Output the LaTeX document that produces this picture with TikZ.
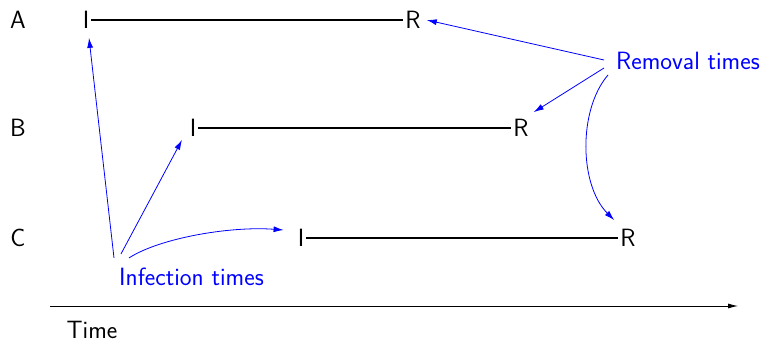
\documentclass[tikz,border=0pt]{standalone}
\usetikzlibrary{arrows.meta,calc}
\begin{document}
\begin{tikzpicture}[x=1pt,y=1pt,
  lbl/.style={font=\sffamily\fontsize{25}{30}\selectfont, inner sep=2pt},
  note/.style={lbl, text=blue},
  period/.style={line width=1.1pt, black},
  pointer/.style={blue, line width=0.8pt, -{Latex[length=10pt,width=6pt]}},
  axis/.style={black, line width=0.8pt, -{Latex[length=10pt,width=5pt]}}]
\useasboundingbox (0,0) rectangle (770,-344);
% row labels
\node[lbl] (A) at (18,-20) {A};
\node[lbl] (B) at (18,-128) {B};
\node[lbl] (C) at (18,-238) {C};
% infection / removal points
\node[lbl] (IA) at (86,-20) {I};
\node[lbl] (RA) at (413,-20) {R};
\node[lbl] (IB) at (193,-128) {I};
\node[lbl] (RB) at (521,-128) {R};
\node[lbl] (IC) at (301,-238) {I};
\node[lbl] (RC) at (628,-238) {R};
\draw[period] (IA) -- (RA);
\draw[period] (IB) -- (RB);
\draw[period] (IC) -- (RC);
% annotations
\node[note, anchor=west] (inf) at (117,-277) {Infection times};
\node[note, anchor=west] (rem) at (614,-61) {Removal times};
\draw[pointer] ($(inf.north west)+(-3,8)$) -- ($(IA.south)+(3,-7)$);
\draw[pointer] ($(inf.north west)+(4,12)$) -- ($(IB.south)+(-11,-1)$);
\draw[pointer] ($(inf.north west)+(12,8)$) .. controls +(31,20) and +(-53,4) .. ($(IC.west)+(-12,8)$);
\draw[pointer] ($(rem.west)+(-10,1)$) -- ($(RA.east)+(4,0)$);
\draw[pointer] ($(rem.west)+(-10,-7)$) -- ($(RB.north east)+(3,5)$);
\draw[pointer] ($(rem.west)+(-6,-14)$) .. controls +(-30,-35) and +(-35,35) .. ($(RC.north west)+(-4,7)$);
% time axis
\coordinate (t0) at (50,-306);
\coordinate (t1) at (738,-306);
\draw[axis] (t0) -- (t1);
\node[lbl] (time) at (92,-330) {Time};
\end{tikzpicture}
\end{document}
